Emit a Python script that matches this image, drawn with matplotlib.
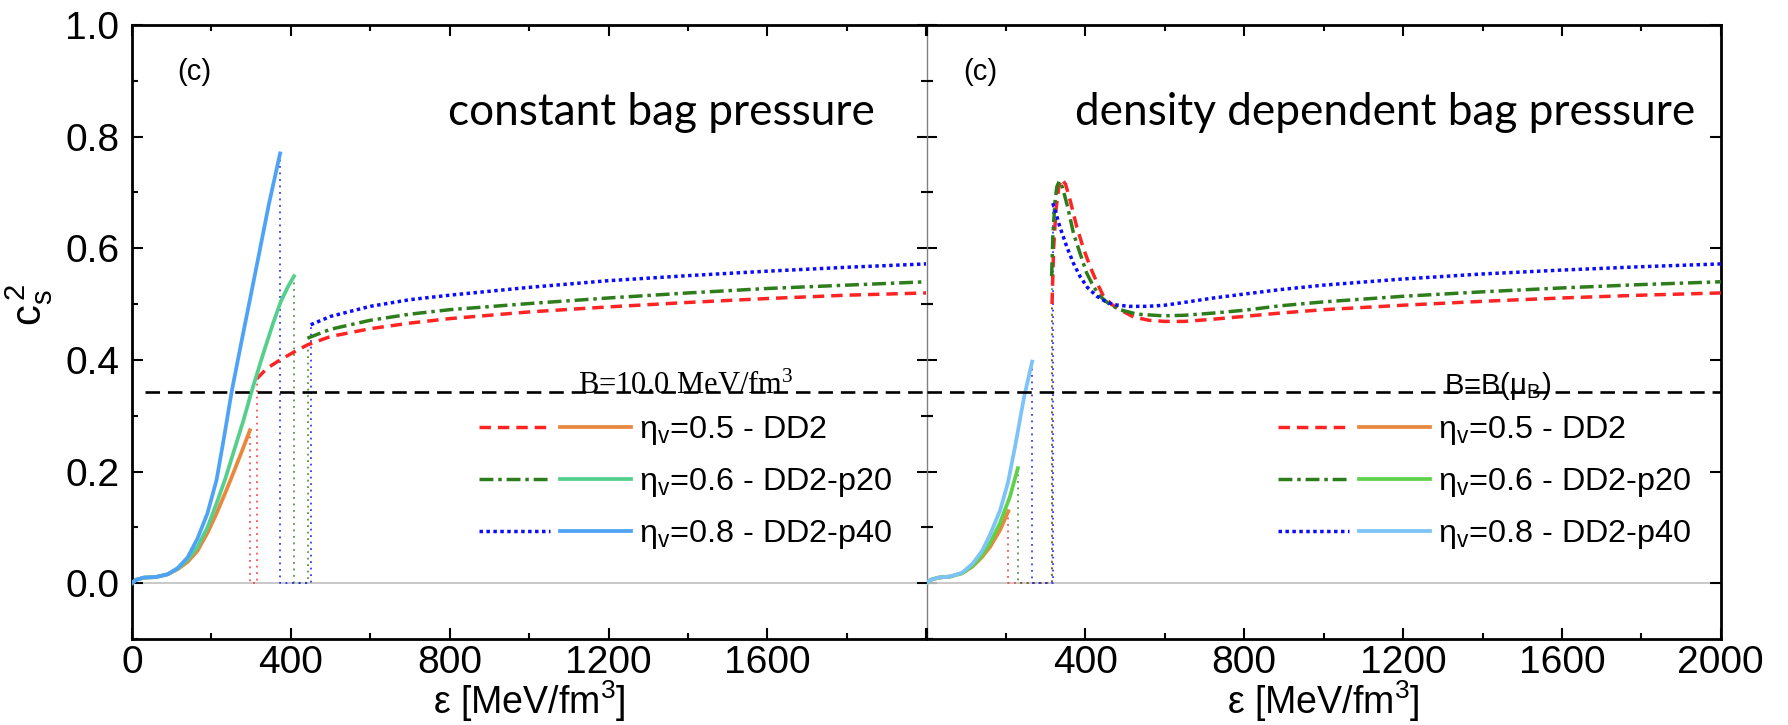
import matplotlib
matplotlib.use('Agg')
import matplotlib.pyplot as plt
from matplotlib.ticker import MultipleLocator, FormatStrFormatter
from matplotlib.legend_handler import HandlerTuple

plt.rcParams['font.family'] = ['Liberation Sans', 'DejaVu Sans']
plt.rcParams['mathtext.default'] = 'regular'

# ---- data ----
# left panel: constant bag pressure, hadronic branches (solid)
eps_hadL_05 = [0, 10, 30, 60, 90, 115, 140, 165, 190, 213, 235, 255, 276, 297]
cs2_hadL_05 = [0, 0.006, 0.010, 0.011, 0.016, 0.025, 0.038, 0.058, 0.09, 0.125, 0.162, 0.197, 0.235, 0.274]
eps_hadL_06 = [0, 10, 30, 60, 90, 115, 140, 165, 190, 213, 235, 255, 280, 301, 330, 355, 375, 392, 408]
cs2_hadL_06 = [0, 0.006, 0.010, 0.011, 0.016, 0.026, 0.042, 0.065, 0.10, 0.143, 0.187, 0.233, 0.29, 0.343, 0.41, 0.465, 0.505, 0.53, 0.55]
eps_hadL_08 = [0, 10, 30, 60, 90, 115, 140, 165, 190, 213, 232, 251, 275, 297, 320, 345, 373]
cs2_hadL_08 = [0, 0.006, 0.010, 0.011, 0.016, 0.027, 0.046, 0.08, 0.125, 0.185, 0.262, 0.343, 0.43, 0.508, 0.59, 0.68, 0.77]
# left panel: quark branches
eps_qL_05 = [314, 340, 373, 410, 442, 500, 600, 700, 800, 1000, 1200, 1400, 1600, 1800, 2000]
cs2_qL_05 = [0.366, 0.385, 0.400, 0.415, 0.427, 0.442, 0.456, 0.466, 0.474, 0.486, 0.495, 0.503, 0.510, 0.516, 0.520]
eps_qL_06 = [442, 500, 600, 700, 800, 1000, 1200, 1400, 1600, 1800, 2000]
cs2_qL_06 = [0.439, 0.455, 0.471, 0.482, 0.490, 0.501, 0.511, 0.520, 0.528, 0.534, 0.540]
eps_qL_08 = [450, 500, 600, 700, 800, 1000, 1200, 1400, 1600, 1800, 2000]
cs2_qL_08 = [0.463, 0.478, 0.496, 0.508, 0.516, 0.530, 0.542, 0.551, 0.559, 0.566, 0.572]

# right panel: density dependent bag pressure, hadronic branches
eps_hadR_05 = [0, 10, 30, 60, 90, 116, 140, 160, 185, 206]
cs2_hadR_05 = [0, 0.006, 0.010, 0.012, 0.018, 0.030, 0.047, 0.065, 0.095, 0.129]
eps_hadR_06 = [0, 10, 30, 60, 90, 116, 140, 160, 185, 210, 230]
cs2_hadR_06 = [0, 0.006, 0.010, 0.012, 0.018, 0.031, 0.050, 0.072, 0.108, 0.155, 0.206]
eps_hadR_08 = [0, 10, 30, 60, 90, 116, 140, 160, 185, 205, 223, 246, 266]
cs2_hadR_08 = [0, 0.006, 0.010, 0.012, 0.019, 0.035, 0.058, 0.087, 0.13, 0.18, 0.245, 0.335, 0.397]
# right panel: quark branches
eps_qR_05 = [316, 320, 326, 333, 340, 350, 362, 378, 395, 412, 430, 445, 465, 487, 521, 560, 600, 650, 723, 800, 891, 1000, 1200, 1400, 1600, 1800, 2000]
cs2_qR_05 = [0.50, 0.60, 0.67, 0.71, 0.724, 0.715, 0.685, 0.639, 0.60, 0.567, 0.537, 0.515, 0.50, 0.49, 0.477, 0.471, 0.469, 0.469, 0.473, 0.478, 0.484, 0.490, 0.498, 0.505, 0.511, 0.516, 0.520]
eps_qR_06 = [315, 318, 323, 328, 334, 342, 355, 370, 387, 403, 420, 437, 460, 487, 530, 596, 650, 723, 800, 891, 1000, 1200, 1400, 1600, 1800, 2000]
cs2_qR_06 = [0.55, 0.62, 0.68, 0.71, 0.72, 0.71, 0.675, 0.627, 0.59, 0.556, 0.532, 0.514, 0.50, 0.49, 0.482, 0.479, 0.480, 0.484, 0.489, 0.497, 0.504, 0.514, 0.522, 0.529, 0.535, 0.540]
eps_qR_08 = [318, 325, 335, 353, 370, 387, 405, 429, 450, 471, 510, 555, 600, 639, 723, 800, 891, 1000, 1200, 1400, 1600, 1800, 2000]
cs2_qR_08 = [0.681, 0.665, 0.64, 0.603, 0.573, 0.549, 0.53, 0.514, 0.505, 0.499, 0.496, 0.496, 0.498, 0.502, 0.511, 0.518, 0.526, 0.534, 0.545, 0.554, 0.561, 0.567, 0.572]

B_level = 0.343
B_start_left = 33
labels = ['η$_v$=0.5 - DD2', 'η$_v$=0.6 - DD2-p20', 'η$_v$=0.8 - DD2-p40']
x_ticks = [0, 400, 800, 1200, 1600, 2000]
x_labels_left = ['0', '400', '800', '1200', '1600', '']
x_labels_right = ['', '400', '800', '1200', '1600', '2000']

# colours
c_red, c_dgreen, c_blue = '#ff2424', '#2e7d1c', '#0b0bff'
solid_left = ['#e9883c', '#55d08c', '#4ea3f6']
solid_right = ['#e9883c', '#5fd24a', '#7cc3f7']
q_styles = [dict(color=c_red, dashes=(3.3, 2.0)),
            dict(color=c_dgreen, dashes=(4.0, 1.4, 1.0, 1.4)),
            dict(color=c_blue, dashes=(1.0, 1.0))]

fig = plt.figure(figsize=(17.88, 7.25), dpi=100)
axL = fig.add_axes([0.0738, 0.1186, 0.4443, 0.8469])
axR = fig.add_axes([0.5182, 0.1186, 0.4442, 0.8469], sharey=axL)


def draw_panel(ax, had, quark, solid_cols):
    ax.axhline(0, color='#c4c4c4', lw=1.3, zorder=1)
    handles = []
    for (hx, hy), (qx, qy), st, sc in zip(had, quark, q_styles, solid_cols):
        # mixed phase: c_s^2 = 0 between the two branches
        ax.plot([hx[-1], hx[-1], qx[0], qx[0]], [hy[-1], 0, 0, qy[0]],
                color=st['color'], lw=1.3, dashes=(1.0, 2.6), alpha=0.8, zorder=2)
        lq, = ax.plot(qx, qy, lw=2.5, zorder=3, **st)
        lh, = ax.plot(hx, hy, color=sc, lw=2.7, zorder=4)
        handles.append((lq, lh))
    return handles


hL = draw_panel(axL,
                [(eps_hadL_05, cs2_hadL_05), (eps_hadL_06, cs2_hadL_06), (eps_hadL_08, cs2_hadL_08)],
                [(eps_qL_05, cs2_qL_05), (eps_qL_06, cs2_qL_06), (eps_qL_08, cs2_qL_08)],
                solid_left)
hR = draw_panel(axR,
                [(eps_hadR_05, cs2_hadR_05), (eps_hadR_06, cs2_hadR_06), (eps_hadR_08, cs2_hadR_08)],
                [(eps_qR_05, cs2_qR_05), (eps_qR_06, cs2_qR_06), (eps_qR_08, cs2_qR_08)],
                solid_right)

# bag pressure reference line
axL.plot([B_start_left, 2000], [B_level, B_level], color='black', lw=1.9, dashes=(5.5, 3.0), zorder=5)
axR.axhline(B_level, color='black', lw=1.9, dashes=(5.5, 3.0), zorder=5)
axL.text(1395, B_level - 0.004, 'B=10.0 MeV/fm$^3$', family='Liberation Serif', fontsize=22,
         ha='center', va='baseline', zorder=6)
axR.text(1437, B_level - 0.004, 'B=B(μ$_B$)', fontsize=21, ha='center', va='baseline', zorder=6)

for ax, hs in ((axL, hL), (axR, hR)):
    ax.set_xlim(0, 2000)
    ax.set_ylim(-0.1, 1.0)
    ax.xaxis.set_minor_locator(MultipleLocator(200))
    ax.yaxis.set_major_locator(MultipleLocator(0.2))
    ax.yaxis.set_minor_locator(MultipleLocator(0.1))
    for s in ax.spines.values():
        s.set_linewidth(2.0)
    ax.tick_params(which='both', direction='in', top=True, labelsize=28, width=1.5)
    ax.tick_params(which='major', length=8)
    ax.tick_params(which='minor', length=4)
    ax.tick_params(axis='x', pad=4)
    ax.set_xlabel('ε [MeV/fm$^3$]', fontsize=27)
    ax.xaxis.set_label_coords(0.5, -0.064)
    ax.legend(handles=hs, labels=labels, handler_map={tuple: HandlerTuple(ndivide=None, pad=0.31)},
              loc='upper left', bbox_to_anchor=(0.437 if ax is axL else 0.442, 0.366),
              frameon=False, fontsize=23.3, handlelength=4.7, handletextpad=0.25,
              labelspacing=0.59, borderpad=0, borderaxespad=0)

axL.set_xticks(x_ticks, x_labels_left)
axR.set_xticks(x_ticks, x_labels_right)
axL.yaxis.set_major_formatter(FormatStrFormatter('%.1f'))
axL.tick_params(axis='y', right=False, pad=9)
axL.spines['right'].set_visible(False)
axL.set_ylabel('$c_s^{\\,2}$', fontsize=30)
axL.yaxis.set_label_coords(-0.097, 0.545)

axR.tick_params(axis='y', left=False, right=True, labelleft=False)
axR.spines['left'].set_visible(False)
sec = axR.secondary_yaxis('left')
sec.yaxis.set_major_locator(MultipleLocator(0.2))
sec.yaxis.set_minor_locator(MultipleLocator(0.1))
sec.tick_params(which='both', direction='inout', labelleft=False, width=1.5)
sec.tick_params(which='major', length=14)
sec.tick_params(which='minor', length=8)
sec.spines['left'].set_color('#808080')
sec.spines['left'].set_linewidth(1.0)

# panel annotations
axL.text(156, 0.915, '(c)', fontsize=21, ha='center', va='center')
axR.text(135, 0.915, '(c)', fontsize=21, ha='center', va='center')
axL.text(1871, 0.8215, 'constant bag pressure', family='Lato', fontsize=31.8, ha='right', va='baseline')
axR.text(1936, 0.8215, 'density dependent bag pressure', family='Lato', fontsize=31.8, ha='right', va='baseline')

fig.savefig('out.png', dpi=100)
